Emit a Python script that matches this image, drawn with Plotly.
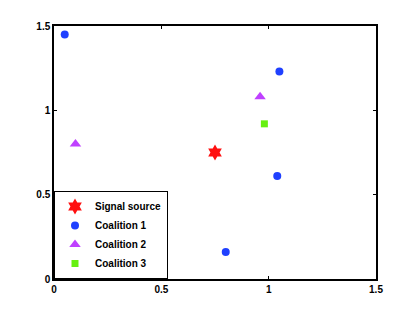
import plotly.graph_objects as go

signal_x = [0.75]
signal_y = [0.75]
c1_x = [0.05, 1.05, 1.04, 0.80]
c1_y = [1.45, 1.23, 0.61, 0.16]
c2_x = [0.10, 0.96]
c2_y = [0.80, 1.08]
c3_x = [0.48, 0.98]
c3_y = [0.49, 0.92]
tick_vals = [0, 0.5, 1, 1.5]
tick_text = ["<b>0</b>", "<b>0.5</b>", "<b>1</b>", "<b>1.5</b>"]

fig = go.Figure()
fig.add_trace(go.Scatter(x=signal_x, y=signal_y, mode="markers", name="<b>Signal source</b>",
                         marker=dict(symbol="hexagram", size=12, color="#ff1010", line=dict(width=0))))
fig.add_trace(go.Scatter(x=c1_x, y=c1_y, mode="markers", name="<b>Coalition 1</b>",
                         marker=dict(symbol="circle", size=8, color="#1f40ff", line=dict(width=0))))
fig.add_trace(go.Scatter(x=c2_x, y=c2_y, mode="markers", name="<b>Coalition 2</b>",
                         marker=dict(symbol="triangle-up", size=10, color="#bf40ff", line=dict(width=0))))
fig.add_trace(go.Scatter(x=c3_x, y=c3_y, mode="markers", name="<b>Coalition 3</b>",
                         marker=dict(symbol="square", size=7, color="#66f010", line=dict(width=0))))

axis_common = dict(range=[0, 1.5], tickvals=tick_vals, ticktext=tick_text, ticks="inside",
                   ticklen=3, tickcolor="black", showline=True, linecolor="black", linewidth=1.5,
                   mirror="ticks", showgrid=False, zeroline=False,
                   tickfont=dict(family="Liberation Sans, Arial", size=10, color="black"))
fig.update_xaxes(**axis_common)
fig.update_yaxes(**axis_common)

fig.update_layout(width=407, height=304, margin=dict(l=46, r=39, t=15, b=33),
                  plot_bgcolor="white", paper_bgcolor="white",
                  font=dict(family="Liberation Sans, Arial", size=10, color="black"),
                  legend=dict(x=0, y=0, xanchor="left", yanchor="bottom",
                              bordercolor="black", borderwidth=1, bgcolor="white",
                              font=dict(size=10), tracegroupgap=0, itemwidth=30))

fig.write_html("out.html")
